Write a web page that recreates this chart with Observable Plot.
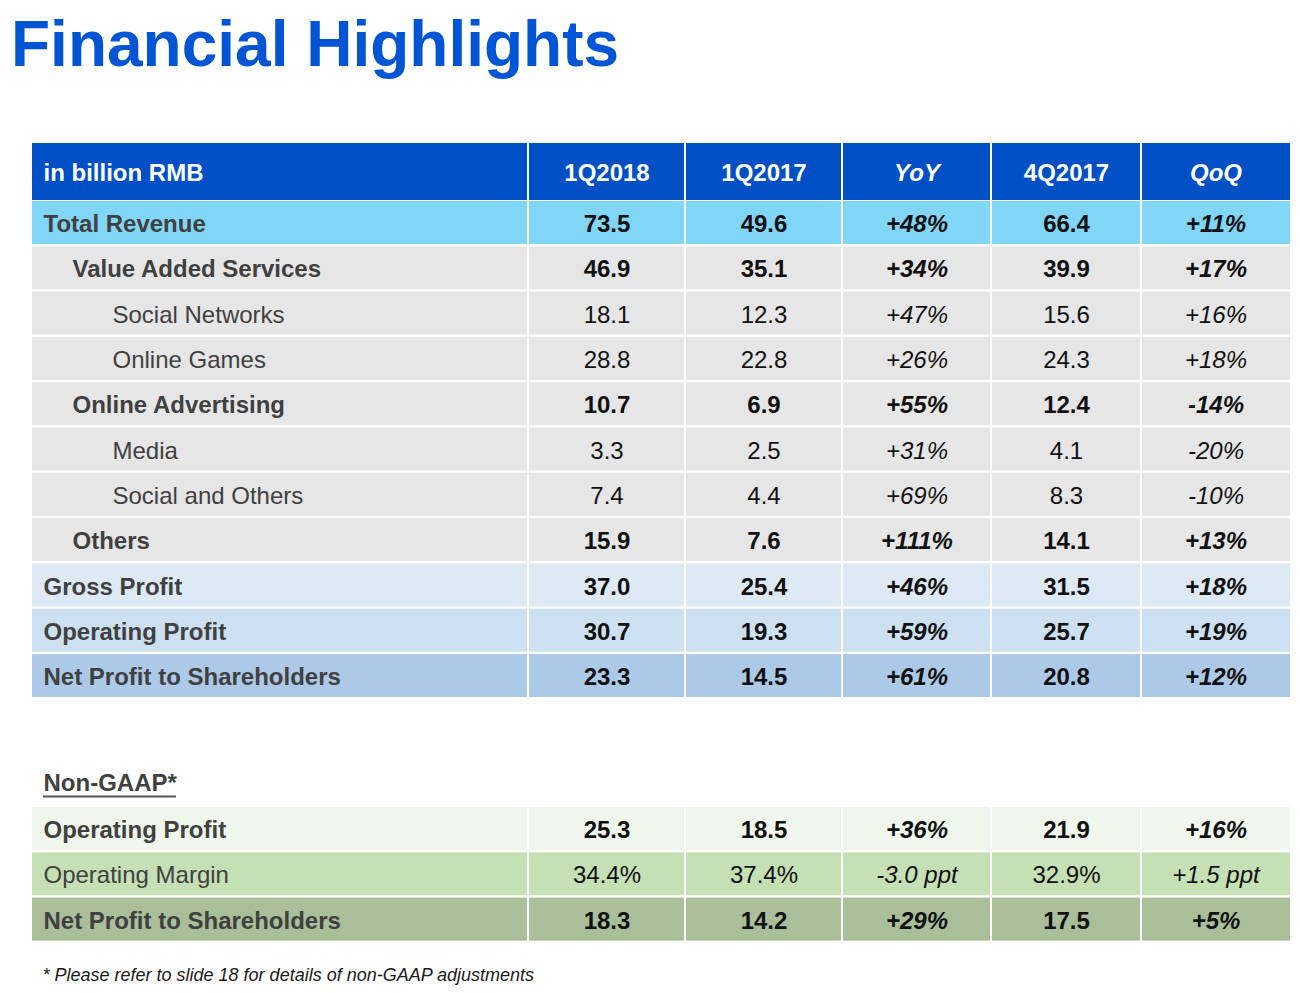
<!DOCTYPE html>
<html>
<head>
<meta charset="utf-8">
<script src="https://cdn.jsdelivr.net/npm/d3@7"></script>
<script src="https://cdn.jsdelivr.net/npm/@observablehq/plot@0.6"></script>
<style>
  html, body { margin: 0; padding: 0; background: #fff; }
  body { width: 1300px; height: 993px; position: relative; overflow: hidden; font-family: "Liberation Sans", Arial, sans-serif; }
  #title { position: absolute; left: 11px; top: 12px; margin: 0; font-size: 64px; line-height: 64px; font-weight: bold; color: #0055D5; letter-spacing: 0; }
  #chart { position: absolute; left: 0; top: 100px; }
</style>
</head>
<body>
<h1 id="title">Financial Highlights</h1>
<div id="chart"></div>
<script>
// ---- Data ----
const headers = ["in billion RMB", "1Q2018", "1Q2017", "YoY", "4Q2017", "QoQ"];
const headerItalic = [false, false, false, true, false, true];

const gaapLabels = ["Total Revenue", "Value Added Services", "Social Networks", "Online Games",
  "Online Advertising", "Media", "Social and Others", "Others",
  "Gross Profit", "Operating Profit", "Net Profit to Shareholders"];
const gaapLevel = [0, 1, 2, 2, 1, 2, 2, 1, 0, 0, 0];
const gaap1Q2018 = [73.5, 46.9, 18.1, 28.8, 10.7, 3.3, 7.4, 15.9, 37.0, 30.7, 23.3];
const gaap1Q2017 = [49.6, 35.1, 12.3, 22.8, 6.9, 2.5, 4.4, 7.6, 25.4, 19.3, 14.5];
const gaapYoY = ["+48%", "+34%", "+47%", "+26%", "+55%", "+31%", "+69%", "+111%", "+46%", "+59%", "+61%"];
const gaap4Q2017 = [66.4, 39.9, 15.6, 24.3, 12.4, 4.1, 8.3, 14.1, 31.5, 25.7, 20.8];
const gaapQoQ = ["+11%", "+17%", "+16%", "+18%", "-14%", "-20%", "-10%", "+13%", "+18%", "+19%", "+12%"];

const nonGaapTitle = "Non-GAAP*";
const nonGaapLabels = ["Operating Profit", "Operating Margin", "Net Profit to Shareholders"];
const nonGaapBold = [true, false, true];
const nonGaap1Q2018 = ["25.3", "34.4%", "18.3"];
const nonGaap1Q2017 = ["18.5", "37.4%", "14.2"];
const nonGaapYoY = ["+36%", "-3.0 ppt", "+29%"];
const nonGaap4Q2017 = ["21.9", "32.9%", "17.5"];
const nonGaapQoQ = ["+16%", "+1.5 ppt", "+5%"];

const footnote = "* Please refer to slide 18 for details of non-GAAP adjustments";

// ---- Layout / style ----
const W = 1300, TOP = 100, H = 993 - TOP;
const colEdges = [32, 528, 685, 842, 991, 1141, 1290];
const headerTop = 143, headerBottom = 200;
const gaapTop = 201, nonGaapTop = 807, pitch = 45.3, rowH = 43;
const indent = [43, 72, 112];
const FS = 24;
const headerFill = "#004FC4";
const gaapFills = ["#81D5F7", "#E6E6E6", "#E6E6E6", "#E6E6E6", "#E6E6E6", "#E6E6E6", "#E6E6E6", "#E6E6E6",
  "#DDE9F5", "#CDE0F1", "#ACCAE8"];
const nonGaapFills = ["#EFF6EB", "#C5E0B5", "#A8BF99"];
const labelColor = "#404040", numColor = "#111111";

const rects = [];
const texts = [];
const colCenter = c => (colEdges[c] + colEdges[c + 1]) / 2;
function cellRect(c, y1, y2, fill) {
  rects.push({x1: colEdges[c] + (c > 0 ? 1 : 0), x2: colEdges[c + 1] - (c < 5 ? 1 : 0), y1, y2, fill});
}

// header
headers.forEach((h, c) => {
  cellRect(c, headerTop, headerBottom, headerFill);
  texts.push({x: c === 0 ? indent[0] : colCenter(c), y: (headerTop + headerBottom) / 2 + 1, text: h,
    anchor: c === 0 ? "start" : "middle", bold: true, italic: headerItalic[c], fill: "#FFFFFF", size: FS});
});

// GAAP rows
gaapLabels.forEach((lab, i) => {
  const y1 = gaapTop + i * pitch, y2 = y1 + rowH, ym = (y1 + y2) / 2 + 1.5;
  const bold = gaapLevel[i] < 2;
  const vals = [gaap1Q2018[i].toFixed(1), gaap1Q2017[i].toFixed(1), gaapYoY[i], gaap4Q2017[i].toFixed(1), gaapQoQ[i]];
  for (let c = 0; c < 6; c++) cellRect(c, y1, y2, gaapFills[i]);
  texts.push({x: indent[gaapLevel[i]], y: ym, text: lab, anchor: "start", bold, italic: false, fill: labelColor, size: FS});
  vals.forEach((v, k) => texts.push({x: colCenter(k + 1), y: ym, text: v, anchor: "middle", bold,
    italic: k === 2 || k === 4, fill: numColor, size: FS}));
});

// Non-GAAP rows
nonGaapLabels.forEach((lab, i) => {
  const y1 = nonGaapTop + i * pitch, y2 = y1 + rowH, ym = (y1 + y2) / 2 + 1.5;
  const bold = nonGaapBold[i];
  const vals = [nonGaap1Q2018[i], nonGaap1Q2017[i], nonGaapYoY[i], nonGaap4Q2017[i], nonGaapQoQ[i]];
  for (let c = 0; c < 6; c++) cellRect(c, y1, y2, nonGaapFills[i]);
  texts.push({x: indent[0], y: ym, text: lab, anchor: "start", bold, italic: false, fill: labelColor, size: FS});
  vals.forEach((v, k) => texts.push({x: colCenter(k + 1), y: ym, text: v, anchor: "middle", bold,
    italic: k === 2 || k === 4, fill: numColor, size: FS}));
});

// Non-GAAP heading & footnote
texts.push({x: indent[0], y: 783, text: nonGaapTitle, anchor: "start", bold: true, italic: false, fill: labelColor, size: FS});
texts.push({x: 42, y: 975, text: footnote, anchor: "start", bold: false, italic: true, fill: "#1a1a1a", size: 18});
const underline = [{x1: 43, x2: 176, y: 796}];

// group text marks by constant style options
const textMarks = [];
const groups = d3.groups(texts, d => `${d.anchor}|${d.bold}|${d.italic}|${d.size}`);
for (const [key, arr] of groups) {
  const [anchor, bold, italic, size] = key.split("|");
  textMarks.push(Plot.text(arr, {
    x: "x", y: "y", text: "text", fill: "fill",
    textAnchor: anchor, fontWeight: bold === "true" ? "bold" : "normal",
    fontStyle: italic === "true" ? "italic" : "normal", fontSize: +size
  }));
}

const chart = Plot.plot({
  width: W, height: H,
  margin: 0,
  x: {domain: [0, W], range: [0, W], axis: null},
  y: {domain: [TOP, TOP + H], range: [0, H], axis: null},
  color: {type: "identity"},
  style: {fontFamily: "'Liberation Sans', Arial, sans-serif", background: "#fff", overflow: "visible"},
  marks: [
    Plot.rect(rects, {x1: "x1", x2: "x2", y1: "y1", y2: "y2", fill: "fill"}),
    Plot.ruleY(underline, {x1: "x1", x2: "x2", y: "y", stroke: "#555", strokeWidth: 2}),
    ...textMarks
  ]
});
document.getElementById("chart").appendChild(chart);
</script>
</body>
</html>
